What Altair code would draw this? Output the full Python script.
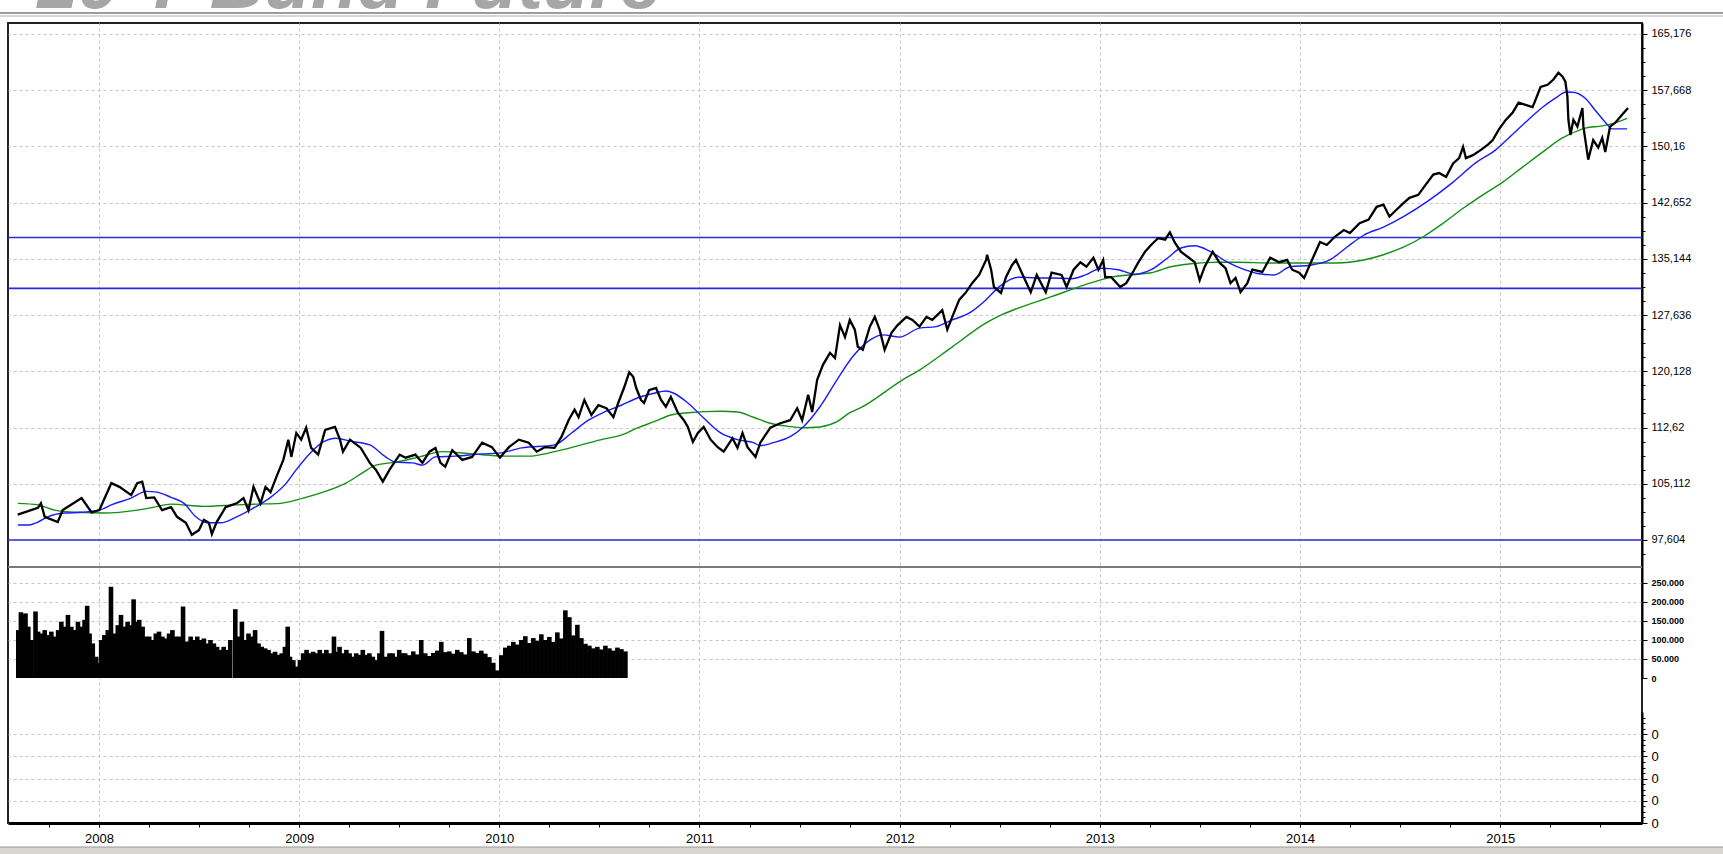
import altair as alt
import pandas as pd

# ---------------- data (time in decimal years) ----------------
PRICE_T = [2007.594, 2007.695, 2007.710, 2007.729, 2007.794, 2007.819, 2007.913, 2007.963, 2008.002, 2008.062,
           2008.102, 2008.161, 2008.191, 2008.216, 2008.236, 2008.276, 2008.315, 2008.360, 2008.390, 2008.434,
           2008.464, 2008.499, 2008.524, 2008.549, 2008.564, 2008.588, 2008.633, 2008.688, 2008.722, 2008.747,
           2008.772, 2008.807, 2008.832, 2008.857, 2008.886, 2008.921, 2008.946, 2008.961, 2008.986, 2009.010,
           2009.035, 2009.060, 2009.095, 2009.130, 2009.179, 2009.204, 2009.219, 2009.254, 2009.308, 2009.353,
           2009.383, 2009.418, 2009.452, 2009.502, 2009.532, 2009.581, 2009.616, 2009.651, 2009.681, 2009.706,
           2009.730, 2009.765, 2009.815, 2009.864, 2009.914, 2009.963, 2010.003, 2010.048, 2010.098, 2010.147,
           2010.187, 2010.227, 2010.276, 2010.311, 2010.346, 2010.376, 2010.396, 2010.425, 2010.460, 2010.495,
           2010.535, 2010.570, 2010.594, 2010.624, 2010.649, 2010.669, 2010.684, 2010.708, 2010.723, 2010.748,
           2010.783, 2010.808, 2010.832, 2010.857, 2010.892, 2010.922, 2010.942, 2010.967, 2010.992, 2011.021,
           2011.056, 2011.091, 2011.121, 2011.165, 2011.190, 2011.215, 2011.240, 2011.280, 2011.304, 2011.354,
           2011.404, 2011.453, 2011.488, 2011.513, 2011.543, 2011.563, 2011.588, 2011.617, 2011.652, 2011.677,
           2011.702, 2011.727, 2011.751, 2011.776, 2011.791, 2011.816, 2011.851, 2011.876, 2011.900, 2011.925,
           2011.960, 2011.990, 2012.034, 2012.064, 2012.099, 2012.134, 2012.163, 2012.213, 2012.238, 2012.263,
           2012.298, 2012.332, 2012.362, 2012.397, 2012.432, 2012.437, 2012.457, 2012.471, 2012.506, 2012.531,
           2012.561, 2012.581, 2012.610, 2012.655, 2012.685, 2012.730, 2012.759, 2012.809, 2012.834, 2012.869,
           2012.903, 2012.933, 2012.968, 2012.993, 2013.017, 2013.027, 2013.057, 2013.102, 2013.132, 2013.166,
           2013.191, 2013.226, 2013.256, 2013.291, 2013.326, 2013.350, 2013.375, 2013.405, 2013.440, 2013.474,
           2013.499, 2013.524, 2013.564, 2013.599, 2013.628, 2013.653, 2013.678, 2013.703, 2013.737, 2013.762,
           2013.812, 2013.851, 2013.896, 2013.936, 2013.961, 2013.996, 2014.021, 2014.045, 2014.075, 2014.100,
           2014.134, 2014.174, 2014.219, 2014.249, 2014.298, 2014.343, 2014.383, 2014.417, 2014.447, 2014.482,
           2014.517, 2014.547, 2014.591, 2014.621, 2014.666, 2014.695, 2014.730, 2014.765, 2014.795, 2014.815,
           2014.829, 2014.864, 2014.904, 2014.939, 2014.963, 2014.993, 2015.028, 2015.063, 2015.092, 2015.127,
           2015.162, 2015.177, 2015.202, 2015.237, 2015.266, 2015.291, 2015.311, 2015.326, 2015.336, 2015.341,
           2015.351, 2015.366, 2015.386, 2015.411, 2015.416, 2015.435, 2015.440, 2015.465, 2015.490, 2015.510,
           2015.525, 2015.549, 2015.574, 2015.609, 2015.639]
PRICE_V = [101.0, 101.9, 102.5, 100.7, 100.0, 101.6, 103.2, 101.3, 101.6, 105.2,
           104.7, 103.6, 105.2, 105.4, 103.2, 103.3, 101.6, 102.0, 100.7, 99.9,
           98.3, 98.9, 100.3, 99.9, 98.4, 100.0, 102.0, 102.5, 103.2, 101.6,
           104.7, 102.5, 104.7, 104.0, 106.0, 108.3, 111.0, 108.7, 111.9, 111.0,
           112.6, 109.9, 109.0, 112.3, 112.7, 111.0, 109.4, 111.0, 109.9, 107.9,
           107.0, 105.4, 107.0, 109.0, 108.6, 109.0, 107.9, 109.4, 109.9, 107.9,
           107.4, 109.6, 108.3, 108.7, 110.6, 110.0, 108.6, 110.0, 111.0, 110.6,
           109.4, 110.0, 109.9, 111.4, 113.6, 115.0, 114.0, 116.3, 114.3, 115.6,
           115.2, 114.0, 115.9, 118.0, 120.0, 119.4, 117.9, 116.3, 115.9, 117.6,
           117.9, 116.3, 115.4, 116.7, 114.6, 113.6, 112.7, 110.7, 111.9, 112.7,
           111.0, 110.0, 109.4, 111.2, 109.9, 111.9, 110.0, 108.7, 110.6, 112.6,
           113.2, 113.6, 115.2, 113.6, 117.0, 114.7, 119.0, 121.0, 122.6, 121.9,
           126.3, 124.7, 127.0, 125.7, 123.4, 123.0, 126.1, 127.4, 125.7, 123.0,
           125.3, 126.3, 127.4, 127.0, 126.1, 127.4, 127.0, 128.3, 125.7, 127.4,
           129.7, 130.7, 131.9, 133.0, 135.0, 135.7, 133.7, 131.4, 130.6, 132.7,
           134.3, 135.0, 133.3, 130.7, 133.0, 130.7, 133.3, 133.0, 131.4, 133.7,
           134.7, 134.1, 135.3, 133.7, 135.0, 132.7, 132.7, 131.4, 131.9, 133.4,
           134.6, 136.1, 137.0, 137.9, 137.7, 138.7, 137.3, 136.1, 135.4, 134.7,
           132.3, 134.1, 136.1, 134.6, 133.9, 131.9, 132.6, 130.7, 131.9, 133.7,
           133.4, 135.3, 134.7, 135.0, 133.7, 133.3, 132.6, 134.1, 135.9, 137.4,
           137.0, 138.1, 139.0, 138.6, 139.9, 140.4, 142.1, 142.4, 140.8, 141.7,
           142.6, 143.3, 143.7, 144.8, 146.4, 146.6, 146.1, 147.9, 148.6, 150.1,
           148.6, 149.0, 149.7, 150.4, 151.0, 152.4, 153.7, 154.7, 156.0, 155.7,
           155.4, 156.4, 158.1, 158.4, 159.1, 160.0, 159.5, 158.8, 156.8, 153.7,
           151.7, 153.7, 152.8, 155.3, 152.8, 149.3, 148.4, 151.0, 150.0, 151.3,
           149.4, 152.8, 153.3, 154.4, 155.3]

FAST_T = [2007.595, 2007.645, 2007.695, 2007.744, 2007.829, 2007.913, 2008.002, 2008.062, 2008.161, 2008.236,
          2008.290, 2008.360, 2008.425, 2008.484, 2008.539, 2008.608, 2008.688, 2008.787, 2008.857, 2008.936,
          2008.986, 2009.055, 2009.120, 2009.184, 2009.254, 2009.353, 2009.432, 2009.482, 2009.566, 2009.616,
          2009.681, 2009.780, 2009.914, 2009.998, 2010.112, 2010.276, 2010.361, 2010.445, 2010.525, 2010.609,
          2010.693, 2010.773, 2010.832, 2010.872, 2010.942, 2011.021, 2011.106, 2011.190, 2011.270, 2011.304,
          2011.369, 2011.453, 2011.518, 2011.602, 2011.687, 2011.766, 2011.851, 2011.916, 2012.000, 2012.099,
          2012.183, 2012.263, 2012.347, 2012.432, 2012.496, 2012.595, 2012.680, 2012.759, 2012.859, 2012.928,
          2013.007, 2013.092, 2013.176, 2013.256, 2013.340, 2013.405, 2013.474, 2013.554, 2013.638, 2013.723,
          2013.787, 2013.871, 2013.951, 2014.050, 2014.149, 2014.234, 2014.318, 2014.417, 2014.517, 2014.646,
          2014.765, 2014.879, 2014.978, 2015.043, 2015.127, 2015.212, 2015.276, 2015.326, 2015.361, 2015.425,
          2015.475, 2015.525, 2015.560, 2015.634]
FAST_V = [99.6, 99.6, 100.0, 100.7, 101.2, 101.3, 101.6, 102.3, 103.2, 104.1,
          104.0, 103.3, 102.5, 100.7, 99.9, 99.9, 100.7, 102.1, 103.3, 105.2,
          107.0, 109.2, 110.7, 111.2, 110.8, 110.3, 108.7, 108.0, 107.9, 107.6,
          108.7, 108.8, 109.1, 109.2, 109.9, 110.3, 111.9, 113.6, 114.7, 115.6,
          116.6, 117.2, 117.5, 117.2, 115.9, 113.9, 111.9, 111.0, 110.6, 110.2,
          110.6, 111.4, 112.7, 115.4, 119.0, 122.1, 124.3, 125.0, 124.7, 125.9,
          126.1, 127.0, 127.9, 129.7, 131.4, 132.7, 132.6, 132.6, 132.5, 133.0,
          133.9, 133.7, 133.1, 133.7, 135.3, 136.6, 136.9, 136.1, 134.7, 133.7,
          133.2, 133.0, 134.1, 134.3, 135.0, 136.7, 138.3, 139.4, 140.8, 143.0,
          145.4, 148.0, 149.7, 151.3, 153.4, 155.4, 156.6, 157.4, 157.4, 156.6,
          155.0, 153.4, 152.5, 152.5]

SLOW_T = [2007.595, 2007.695, 2007.779, 2007.893, 2008.027, 2008.191, 2008.276, 2008.360, 2008.524, 2008.688,
          2008.787, 2008.906, 2009.020, 2009.120, 2009.234, 2009.318, 2009.383, 2009.482, 2009.601, 2009.715,
          2009.864, 2010.028, 2010.147, 2010.276, 2010.396, 2010.525, 2010.609, 2010.693, 2010.773, 2010.857,
          2010.942, 2011.106, 2011.190, 2011.270, 2011.354, 2011.438, 2011.518, 2011.602, 2011.687, 2011.751,
          2011.801, 2012.015, 2012.099, 2012.263, 2012.432, 2012.511, 2012.595, 2012.759, 2012.928, 2013.057,
          2013.191, 2013.256, 2013.355, 2013.455, 2013.589, 2013.688, 2013.852, 2014.021, 2014.184, 2014.318,
          2014.417, 2014.517, 2014.616, 2014.715, 2014.815, 2014.914, 2015.013, 2015.112, 2015.212, 2015.311,
          2015.341, 2015.425, 2015.510, 2015.574, 2015.634]
SLOW_V = [102.5, 102.3, 101.6, 101.3, 101.2, 101.6, 102.0, 102.4, 102.1, 102.3,
          102.4, 102.5, 103.2, 104.0, 105.2, 106.6, 107.6, 108.0, 108.7, 109.4,
          109.1, 108.8, 108.8, 109.4, 110.2, 111.1, 111.6, 112.6, 113.4, 114.3,
          114.6, 114.8, 114.7, 114.0, 113.2, 112.8, 112.6, 112.7, 113.4, 114.6,
          115.2, 119.0, 120.3, 123.4, 126.6, 127.7, 128.6, 130.1, 131.7, 132.7,
          133.1, 133.3, 134.1, 134.5, 134.7, 134.7, 134.6, 134.6, 134.6, 135.0,
          135.7, 136.7, 138.1, 139.9, 141.9, 143.7, 145.4, 147.4, 149.4, 151.3,
          151.7, 152.6, 152.9, 153.3, 153.9]

LEVELS = [97.604, 131.2, 138.0]

VOL_T = [2007.597, 2007.610, 2007.622, 2007.633, 2007.647, 2007.663, 2007.683, 2007.696, 2007.713, 2007.729,
         2007.746, 2007.762, 2007.779, 2007.796, 2007.812, 2007.829, 2007.845, 2007.862, 2007.878, 2007.895,
         2007.911, 2007.928, 2007.941, 2007.953, 2007.969, 2007.986, 2007.994, 2008.011, 2008.027, 2008.044,
         2008.060, 2008.077, 2008.094, 2008.110, 2008.127, 2008.143, 2008.160, 2008.173, 2008.185, 2008.201,
         2008.218, 2008.234, 2008.251, 2008.267, 2008.284, 2008.300, 2008.317, 2008.334, 2008.350, 2008.367,
         2008.383, 2008.400, 2008.420, 2008.433, 2008.441, 2008.458, 2008.474, 2008.491, 2008.507, 2008.524,
         2008.540, 2008.557, 2008.574, 2008.590, 2008.607, 2008.623, 2008.640, 2008.656, 2008.681, 2008.698,
         2008.714, 2008.731, 2008.747, 2008.764, 2008.780, 2008.797, 2008.813, 2008.830, 2008.847, 2008.863,
         2008.880, 2008.896, 2008.913, 2008.929, 2008.943, 2008.954, 2008.971, 2008.987, 2008.995, 2009.004,
         2009.020, 2009.037, 2009.053, 2009.070, 2009.087, 2009.103, 2009.120, 2009.136, 2009.153, 2009.174,
         2009.186, 2009.202, 2009.219, 2009.236, 2009.252, 2009.269, 2009.285, 2009.302, 2009.318, 2009.335,
         2009.351, 2009.368, 2009.384, 2009.401, 2009.414, 2009.434, 2009.451, 2009.467, 2009.484, 2009.500,
         2009.517, 2009.530, 2009.550, 2009.570, 2009.590, 2009.610, 2009.630, 2009.650, 2009.670, 2009.690,
         2009.710, 2009.730, 2009.750, 2009.770, 2009.790, 2009.810, 2009.830, 2009.850, 2009.870, 2009.890,
         2009.910, 2009.930, 2009.950, 2009.970, 2009.990, 2010.010, 2010.030, 2010.050, 2010.070, 2010.090,
         2010.110, 2010.130, 2010.150, 2010.170, 2010.190, 2010.210, 2010.230, 2010.250, 2010.270, 2010.290,
         2010.310, 2010.330, 2010.350, 2010.370, 2010.390, 2010.410, 2010.430, 2010.450, 2010.470, 2010.490,
         2010.510, 2010.530, 2010.550, 2010.570, 2010.590, 2010.610, 2010.630]
VOL_K = [126, 173, 166, 170, 135, 100, 175, 122, 117, 126,
         113, 122, 109, 126, 148, 135, 166, 135, 126, 148,
         135, 153, 190, 117, 91, 56, 39, 100, 113, 126,
         240, 117, 139, 166, 135, 148, 139, 207, 148, 153,
         135, 109, 109, 100, 117, 122, 109, 104, 117, 126,
         109, 109, 188, 0, 96, 109, 100, 109, 100, 104,
         91, 100, 91, 82, 74, 82, 74, 100, 181, 109,
         148, 100, 117, 109, 126, 91, 82, 78, 74, 65,
         69, 61, 65, 82, 135, 56, 47, 30, 17, 47,
         65, 74, 65, 69, 65, 74, 65, 74, 65, 109,
         69, 82, 65, 74, 65, 56, 65, 61, 74, 61,
         65, 56, 47, 65, 124, 56, 65, 65, 56, 74,
         65, 65, 60, 70, 62, 100, 65, 58, 66, 72,
         95, 68, 70, 64, 74, 68, 62, 105, 70, 66,
         72, 64, 55, 40, 20, 60, 80, 85, 95, 88,
         100, 110, 92, 105, 98, 115, 100, 108, 95, 120,
         104, 178, 160, 112, 140, 105, 90, 85, 78, 82,
         75, 85, 78, 72, 80, 76, 70]

PRICE_TICKS = [97.604, 105.112, 112.62, 120.128, 127.636, 135.144, 142.652, 150.16, 157.668, 165.176]
VOL_TICKS = [0, 50000, 100000, 150000, 200000, 250000]
LOWER_TICKS = [0, 0.2, 0.4, 0.6, 0.8]
YEARS = [2008, 2009, 2010, 2011, 2012, 2013, 2014, 2015]
QUARTERS = [2007.75, 2008.0, 2008.25, 2008.5, 2008.75, 2009.0, 2009.25, 2009.5, 2009.75, 2010.0, 2010.25,
            2010.5, 2010.75, 2011.0, 2011.25, 2011.5, 2011.75, 2012.0, 2012.25, 2012.5, 2012.75, 2013.0,
            2013.25, 2013.5, 2013.75, 2014.0, 2014.25, 2014.5, 2014.75, 2015.0, 2015.25, 2015.5]
TITLE = "10 Y Bund Future"

# ---------------- layout ----------------
W, H = 1634, 800
XDOM = [2007.5705, 2015.6837]
PRICE_DOM, PRICE_RANGE = [93.998, 166.644], [544, 0]
VOL_DOM, VOL_RANGE = [0, 292000], [655, 544]
LOW_DOM, LOW_RANGE = [0, 1], [800, 689]

FONT = "Liberation Sans"
GRID = dict(grid=True, gridDash=[3, 3], gridColor="#c6c6c6", gridWidth=1)

step = 7.508 / 4
PRICE_MINOR = [round(PRICE_TICKS[0] + k * step, 3) for k in range(-1, 38) if k % 4 != 0]
LOWER_MINOR = [round(0.05 * k, 2) for k in range(1, 20) if k % 4 != 0]


def xenc(field, axis=None):
    return alt.X(f"{field}:Q", scale=alt.Scale(domain=XDOM, nice=False, zero=False), axis=axis)


def pscale():
    return alt.Scale(domain=PRICE_DOM, range=PRICE_RANGE, nice=False, zero=False)


price_df = pd.DataFrame({"t": PRICE_T, "v": PRICE_V})
fast_df = pd.DataFrame({"t": FAST_T, "v": FAST_V})
slow_df = pd.DataFrame({"t": SLOW_T, "v": SLOW_V})
lev_df = pd.DataFrame({"v": LEVELS})
ptick_df = pd.DataFrame({"v": PRICE_TICKS})
vol_df = pd.DataFrame({"t": VOL_T, "vol": [k * 1000 for k in VOL_K]})
dummy = alt.Data(values=[{"a": 0}])

price_axis_layer = alt.Chart(ptick_df).mark_point(opacity=0).encode(
    y=alt.Y("v:Q", scale=pscale(), axis=alt.Axis(
        orient="right", values=PRICE_TICKS, title=None,
        labelExpr="replace(format(datum.value, '.3~f'), '.', ',')",
        labelFont=FONT, labelFontSize=11, labelColor="#000", labelPadding=4,
        tickSize=5, tickColor="#000", domain=True, domainColor="#000", domainWidth=2,
        **GRID)))
price_minor = alt.Chart(ptick_df).mark_point(opacity=0).encode(
    y=alt.Y("v:Q", scale=pscale(), axis=alt.Axis(
        orient="right", values=PRICE_MINOR, labels=False, grid=False, domain=False,
        tickSize=3, tickColor="#000", title=None)))

levels = alt.Chart(lev_df).mark_rule(color="#2b2bd6", strokeWidth=1.6).encode(
    y=alt.Y("v:Q", scale=pscale(), axis=None))
slow = alt.Chart(slow_df).mark_line(color="#139013", strokeWidth=1.4, interpolate="monotone").encode(
    x=xenc("t"), y=alt.Y("v:Q", scale=pscale(), axis=None))
fast = alt.Chart(fast_df).mark_line(color="#1a1aff", strokeWidth=1.4, interpolate="monotone").encode(
    x=xenc("t"), y=alt.Y("v:Q", scale=pscale(), axis=None))
price = alt.Chart(price_df).mark_line(color="#000", strokeWidth=2.3).encode(
    x=xenc("t"), y=alt.Y("v:Q", scale=pscale(), axis=None))

vol = alt.Chart(vol_df).mark_bar(color="#000", size=4.6).encode(
    x=xenc("t"),
    y=alt.Y("vol:Q", scale=alt.Scale(domain=VOL_DOM, range=VOL_RANGE, nice=False, zero=False),
            axis=alt.Axis(orient="right", values=VOL_TICKS, title=None,
                          labelExpr="replace(format(datum.value, ','), ',', '.')",
                          labelFont=FONT, labelFontSize=9, labelFontWeight="bold",
                          labelColor="#000", labelPadding=4, tickSize=5, tickColor="#000",
                          domain=True, domainColor="#000", domainWidth=2,
                          gridOpacity={"condition": {"test": "datum.value === 0", "value": 0}, "value": 1},
                          **GRID)),
    y2=alt.datum(0))

lower_df = pd.DataFrame({"v": LOWER_TICKS})
lower = alt.Chart(lower_df).mark_point(opacity=0).encode(
    y=alt.Y("v:Q", scale=alt.Scale(domain=LOW_DOM, range=LOW_RANGE, nice=False, zero=False),
            axis=alt.Axis(orient="right", values=LOWER_TICKS, title=None, labelExpr="'0'",
                          labelFont=FONT, labelFontSize=13, labelColor="#000", labelPadding=4,
                          tickSize=5, tickColor="#000", domain=True, domainColor="#000", domainWidth=2,
                          **GRID)))
lower_minor = alt.Chart(lower_df).mark_point(opacity=0).encode(
    y=alt.Y("v:Q", scale=alt.Scale(domain=LOW_DOM, range=LOW_RANGE, nice=False, zero=False),
            axis=alt.Axis(orient="right", values=LOWER_MINOR, labels=False, grid=False, domain=False,
                          tickSize=3, tickColor="#000", title=None)))

years_df = pd.DataFrame({"yr": YEARS})
year_axis = alt.Chart(years_df).mark_point(opacity=0).encode(
    x=xenc("yr", alt.Axis(orient="bottom", values=YEARS, format="d", title=None,
                          labelFont=FONT, labelFontSize=13, labelColor="#000", labelPadding=5,
                          tickSize=4, tickColor="#000", domain=True, domainColor="#000", domainWidth=3,
                          **GRID)))
quarters_df = pd.DataFrame({"q": QUARTERS})
quarter_axis = alt.Chart(quarters_df).mark_point(opacity=0).encode(
    x=xenc("q", alt.Axis(orient="bottom", values=QUARTERS, labels=False, grid=False, domain=False,
                         tickSize=4, tickColor="#000", title=None)))

# decorations (window chrome)
title_text = alt.Chart(dummy).mark_text(
    text=TITLE, font=FONT, fontSize=76, fontStyle="italic", fontWeight="bold",
    color="#a6a6a6", align="left", baseline="alphabetic").encode(x=alt.value(27), y=alt.value(-15))
band1 = alt.Chart(dummy).mark_rule(color="#9c9c9c", strokeWidth=2).encode(
    x=alt.value(-8), x2=alt.value(W + 81), y=alt.value(-10))
band2 = alt.Chart(dummy).mark_rule(color="#d6d6d6", strokeWidth=2).encode(
    x=alt.value(-8), x2=alt.value(W + 81), y=alt.value(-7))
separator = alt.Chart(dummy).mark_rule(color="#7a7a7a", strokeWidth=2).encode(
    x=alt.value(0), x2=alt.value(W), y=alt.value(544))
scroll = alt.Chart(dummy).mark_rect(color="#d8d5d0").encode(
    x=alt.value(-8), x2=alt.value(W + 81), y=alt.value(824), y2=alt.value(832))
scroll_line = alt.Chart(dummy).mark_rule(color="#9a9a9a", strokeWidth=1).encode(
    x=alt.value(-8), x2=alt.value(W + 81), y=alt.value(824))

chart = alt.layer(
    price_axis_layer, price_minor, levels, slow, fast, price,
    vol, lower, lower_minor, year_axis, quarter_axis,
    separator, title_text, band1, band2, scroll, scroll_line
).resolve_scale(y="independent").resolve_axis(y="independent", x="independent").properties(
    width=W, height=H,
    autosize=alt.AutoSizeParams(type="none"),
    padding={"left": 8, "top": 23, "right": 81, "bottom": 31},
    background="white",
).configure_view(stroke="#222", strokeWidth=2)

chart.save("out.html", embed_options={"renderer": "svg", "actions": False})
